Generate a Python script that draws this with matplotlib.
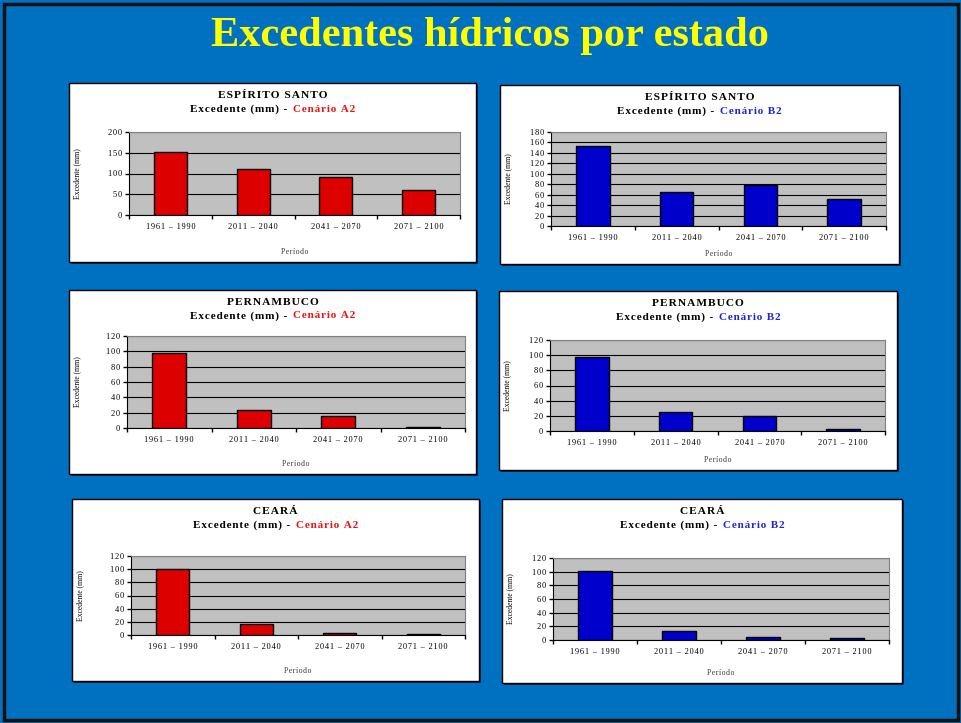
import matplotlib
matplotlib.use('Agg')
import matplotlib.pyplot as plt
from matplotlib.patches import Rectangle

W, H = 961, 723

periods = ['1961 – 1990', '2011 – 2040', '2041 – 2070', '2071 – 2100']

es_a2 = [153, 112, 92, 60]
es_b2 = [154, 66, 79, 51]
pe_a2 = [98, 24, 16, 1]
pe_b2 = [98, 25, 20, 2]
ce_a2 = [101, 17, 3, 1]
ce_b2 = [101, 13, 5, 3]

states = ['ESPÍRITO SANTO', 'ESPÍRITO SANTO', 'PERNAMBUCO', 'PERNAMBUCO', 'CEARÁ', 'CEARÁ']
scenarios = ['Cenário A2', 'Cenário B2'] * 3
series = [es_a2, es_b2, pe_a2, pe_b2, ce_a2, ce_b2]
ymax = [200, 180, 120, 120, 120, 120]
ystep = [50, 20, 20, 20, 20, 20]

bg_blue = '#0070C0'
bar_colors = {'Cenário A2': '#DD0000', 'Cenário B2': '#0000CC'}
text_colors = {'Cenário A2': '#EE1111', 'Cenário B2': '#2222DD'}

# panel boxes and plot-area boxes in pixels (left, top, right, bottom)
panels = [(69, 83, 476, 262), (500, 85, 899, 264),
          (69, 290, 476, 474), (499, 291, 897, 470),
          (72, 499, 479, 681), (502, 499, 902, 683)]
plots = [(129, 132, 460, 215), (551, 132, 886, 226),
         (127, 336, 465, 428), (550, 340, 885, 431),
         (131, 556, 465, 635), (553, 558, 889, 640)]

plt.rcParams['font.family'] = ['Liberation Serif', 'DejaVu Serif']


def spaced(s):
    # loose letter spacing like the original slide
    return '\u200a'.join(s)


fig = plt.figure(figsize=(W / 100, H / 100), dpi=100, facecolor=bg_blue)


def box(l, t, r, b):
    return [l / W, 1 - b / H, (r - l) / W, (b - t) / H]


# outer dark frame
fig.patches.append(Rectangle((3.5 / W, 3.5 / H), (W - 7) / W, (H - 7) / H,
                             transform=fig.transFigure, fill=False,
                             edgecolor='#111111', linewidth=2.5))

fig.text(490 / W, 1 - 36 / H, 'Excedentes hídricos por estado', color='#FFFF00',
         fontsize=30.5, fontweight='bold', ha='center', va='center')

fig.canvas.draw()
renderer = fig.canvas.get_renderer()

for i in range(6):
    pl, pt, pr, pb = panels[i]
    # shadow
    fig.patches.append(Rectangle(((pl + 2) / W, 1 - (pb + 2) / H), (pr - pl) / W, (pb - pt) / H,
                                 transform=fig.transFigure, facecolor='#0A2A55',
                                 edgecolor='none', zorder=0))
    fig.patches.append(Rectangle((pl / W, 1 - pb / H), (pr - pl) / W, (pb - pt) / H,
                                 transform=fig.transFigure, facecolor='white',
                                 edgecolor='black', linewidth=1, zorder=1))

    l, t, r, b = plots[i]
    ax = fig.add_axes(box(l, t, r, b))
    ax.set_zorder(2)
    ax.set_facecolor('#C0C0C0')
    x = range(len(periods))
    ax.bar(x, series[i], width=0.4, color=bar_colors[scenarios[i]],
           edgecolor='black', linewidth=1, zorder=3)
    ax.set_xlim(-0.5, 3.5)
    ax.set_ylim(0, ymax[i])
    ax.set_yticks(range(0, ymax[i] + 1, ystep[i]))
    ax.yaxis.grid(True, color='black', linewidth=0.8, zorder=1)
    ax.set_axisbelow(True)
    ax.set_xticks([-0.5, 0.5, 1.5, 2.5, 3.5], minor=False)
    ax.set_xticklabels([])
    ax.set_xticks(list(x), minor=True)
    ax.set_xticklabels([spaced(p) for p in periods], minor=True, fontsize=6)
    ax.tick_params(axis='x', which='minor', length=0, pad=6)
    ax.tick_params(axis='x', which='major', length=3, direction='out', width=1)
    ax.tick_params(axis='y', labelsize=6, length=3, width=1, pad=2)
    ax.set_yticklabels([spaced(str(v)) for v in range(0, ymax[i] + 1, ystep[i])])
    for side in ['top', 'right']:
        ax.spines[side].set_color('#808080')
    ax.spines['left'].set_color('black')
    ax.spines['bottom'].set_color('black')
    ax.set_ylabel('Excedente (mm)', fontsize=5.5, va='center')
    ax.yaxis.set_label_coords((pl + 8 - l) / (r - l), 0.5)
    ax.set_xlabel(spaced('Período'), fontsize=5.5, color='#333333', va='center')
    ax.xaxis.set_label_coords(0.5, -(pb - 10 - b) / (b - t))

    cx = (pl + pr) / 2
    fig.text(cx / W, 1 - (pt + 12) / H, spaced(states[i]),
             fontsize=8.2, fontweight='bold', ha='center', va='center')
    t1 = fig.text(0, 0, spaced('Excedente (mm) -') + '  ', fontsize=8, fontweight='bold')
    t2 = fig.text(0, 0, spaced(scenarios[i]), fontsize=8, fontweight='bold',
                  color=text_colors[scenarios[i]])
    w1 = t1.get_window_extent(renderer).width
    w2 = t2.get_window_extent(renderer).width
    x0 = cx - (w1 + w2) / 2
    ys = 1 - (pt + 26) / H
    t1.set_position((x0 / W, ys))
    t1.set_va('center')
    t2.set_position(((x0 + w1) / W, ys))
    t2.set_va('center')

fig.savefig('out.png', dpi=100, facecolor=bg_blue)
